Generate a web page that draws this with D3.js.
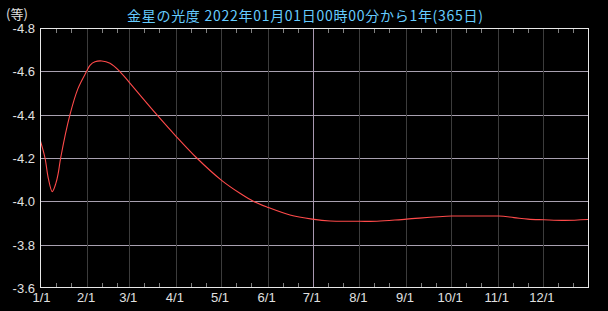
<!DOCTYPE html>
<html>
<head>
<meta charset="utf-8">
<script src="https://cdn.jsdelivr.net/npm/d3@7"></script>
<style>
   html, body { margin: 0; padding: 0; background: #000; }
   svg { display: block; }
</style>
</head>
<body>
<div id="chart"></div>
<script>
// day offset from 2022-01-01 and Venus magnitude
const days = [0, 3, 5.2, 7.8, 10.3, 11.8, 13.4, 19.6, 24.9, 30.7, 32.9, 36.2, 40.7, 46.2, 52.9, 59, 77.3, 89.4,
   103.9, 120.2, 132.6, 141.5, 150.8, 165.9, 180.7, 192.6, 211.8, 223.7, 243.5, 273.4, 288.9, 304.7, 314.8, 324.1,
   334.6, 348.7, 364];
const mags = [-4.278, -4.2, -4.106, -4.045, -4.085, -4.13, -4.2, -4.4, -4.52, -4.6, -4.628, -4.644, -4.648, -4.637,
   -4.598, -4.549, -4.4, -4.306, -4.2, -4.098, -4.037, -4.0, -3.973, -3.937, -3.918, -3.909, -3.908, -3.908, -3.918,
   -3.932, -3.932, -3.932, -3.925, -3.918, -3.915, -3.912, -3.916];

const monthDays = [0, 31, 59, 90, 120, 151, 181, 212, 243, 273, 304, 334];
const monthLabels = ['1/1', '2/1', '3/1', '4/1', '5/1', '6/1', '7/1', '8/1', '9/1', '10/1', '11/1', '12/1'];
const yTicks = [-4.8, -4.6, -4.4, -4.2, -4.0, -3.8, -3.6];

const titleText = '金星の光度  2022年01月01日00時00分から1年(365日)';
const unitText = '(等)';

const width = 608;
const height = 311;
const plot = { left: 40.5, right: 588, top: 28, bottom: 288 };

const svg = d3
   .select('#chart')
   .append('svg')
   .attr('width', width)
   .attr('height', height)
   .style('background', '#000');

const xScale = d3.scaleLinear().domain([0, 364]).range([plot.left, plot.right]);
const yScale = d3.scaleLinear().domain([-3.6, -4.8]).range([plot.bottom, plot.top]);

const px = (v) => Math.round(v) + 0.5;

// horizontal grid
svg
   .append('g')
   .attr('shape-rendering', 'crispEdges')
   .selectAll('line')
   .data(yTicks.slice(1, -1))
   .join('line')
   .attr('x1', plot.left)
   .attr('x2', plot.right)
   .attr('y1', (d) => px(yScale(d)))
   .attr('y2', (d) => px(yScale(d)))
   .attr('stroke', '#a8a0b0')
   .attr('stroke-width', 1);

// vertical month lines, dark except 7/1
svg
   .append('g')
   .attr('class', 'month-lines')
   .selectAll('rect')
   .data(monthDays.slice(1))
   .join('rect')
   .attr('x', (d) => Math.round(xScale(d)))
   .attr('y', plot.top)
   .attr('width', 1)
   .attr('height', plot.bottom - plot.top)
   .attr('fill', (d) => (d === 181 ? '#a898b0' : '#3c3c3c'));

// minor ticks on the 11th and 21st
const minorDays = [];
monthDays.forEach((m) => {
   minorDays.push(m + 10, m + 20);
});
const tickG = svg
   .append('g')
   .attr('stroke', '#808080')
   .attr('stroke-width', 1)
   .attr('shape-rendering', 'crispEdges');
tickG
   .selectAll('.top-tick')
   .data(minorDays)
   .join('line')
   .attr('class', 'top-tick')
   .attr('x1', (d) => px(xScale(d)))
   .attr('x2', (d) => px(xScale(d)))
   .attr('y1', plot.top)
   .attr('y2', plot.top + 5);
tickG
   .selectAll('.bottom-tick')
   .data(minorDays)
   .join('line')
   .attr('class', 'bottom-tick')
   .attr('x1', (d) => px(xScale(d)))
   .attr('x2', (d) => px(xScale(d)))
   .attr('y1', plot.bottom - 5)
   .attr('y2', plot.bottom);

// curve
const line = d3
   .line()
   .x((d) => xScale(d[0]))
   .y((d) => yScale(d[1]))
   .curve(d3.curveCatmullRom.alpha(0.5));

svg
   .append('path')
   .datum(days.map((d, i) => [d, mags[i]]))
   .attr('d', line)
   .attr('fill', 'none')
   .attr('stroke', '#ff4a4a')
   .attr('stroke-width', 1.1);

// frame
svg
   .append('rect')
   .attr('x', plot.left)
   .attr('y', plot.top + 0.5)
   .attr('width', plot.right - plot.left)
   .attr('height', plot.bottom - plot.top - 1.5)
   .attr('fill', 'none')
   .attr('stroke', '#e8e8e8')
   .attr('stroke-width', 1)
   .attr('shape-rendering', 'crispEdges');

// y labels
svg
   .append('g')
   .selectAll('text')
   .data(yTicks)
   .join('text')
   .attr('x', 35)
   .attr('y', (d) => yScale(d) + 5)
   .attr('text-anchor', 'end')
   .attr('fill', '#e0e0e0')
   .style('font-family', 'Liberation Sans, Arial, sans-serif')
   .style('font-size', '13px')
   .text((d) => d3.format('.1f')(d).replace('−', '-'));

// x labels
svg
   .append('g')
   .selectAll('text')
   .data(monthDays)
   .join('text')
   .attr('x', (d) => (d === 0 ? xScale(d) + 1 : xScale(d) - 1))
   .attr('y', 302)
   .attr('text-anchor', 'middle')
   .attr('fill', '#e0e0e0')
   .style('font-family', 'Liberation Sans, Arial, sans-serif')
   .style('font-size', '13px')
   .text((d, i) => monthLabels[i]);

svg
   .append('text')
   .attr('x', 6)
   .attr('y', 18.5)
   .attr('fill', '#e0e0e0')
   .style('font-family', 'Noto Sans CJK JP, sans-serif')
   .style('font-size', '13px')
   .text(unitText);

svg
   .append('text')
   .attr('x', 127)
   .attr('y', 21)
   .attr('fill', '#66ccff')
   .attr('textLength', 356)
   .attr('lengthAdjust', 'spacing')
   .style('font-family', 'Noto Sans CJK JP, sans-serif')
   .style('font-size', '14px')
   .text(titleText);
</script>
</body>
</html>
